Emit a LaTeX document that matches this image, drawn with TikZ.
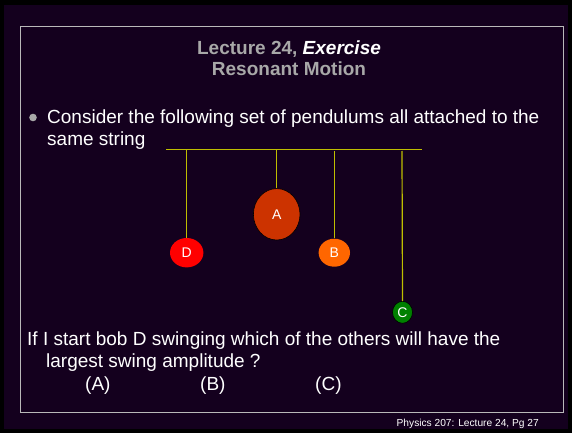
\documentclass[tikz,border=0pt]{standalone}
\usepackage{fontspec}
\setmainfont{Liberation Sans}
\usetikzlibrary{shapes.geometric}
\definecolor{bgc}{HTML}{14001E}
\definecolor{strc}{HTML}{BEBE00}
\definecolor{titc}{HTML}{A8A8A8}
\definecolor{bobA}{HTML}{CC3300}
\definecolor{bobB}{HTML}{FF6600}
\definecolor{bobC}{HTML}{008000}
\definecolor{bobD}{HTML}{FF0000}
\tikzset{
  bob/.style={ellipse, draw=black, line width=0.6pt, inner sep=0pt, text=white, font=\fontsize{14}{14}\selectfont},
  strg/.style={draw=strc, line width=1.2pt},
  body/.style={text=white, anchor=base west, inner sep=0pt, font=\fontsize{19}{19}\selectfont},
}
\begin{document}
\begin{tikzpicture}[x=1pt,y=-1pt]
\useasboundingbox (0,0) rectangle (572,433);
\fill[black] (0,0) rectangle (572,433);
\fill[bgc] (4,5) rectangle (568,429);
\draw[titc!80!white, line width=1pt] (20,27) rectangle (563,412);
% title
\node[text=titc, font=\bfseries\fontsize{19}{21}\selectfont, align=center, inner sep=0pt] (title) at (289,58) {Lecture 24, \textcolor{white}{\itshape Exercise}\\Resonant Motion};
% bullet
\fill[titc] (33,117.5) circle (3.8) coordinate (bul);
\node[body] (l1) at (47,123) {Consider the following set of pendulums all attached to the};
\node[body] (l2) at (47,145) {same string};
% string
\coordinate (sL) at (166,149.5);
\coordinate (sR) at (422,149.5);
\draw[strg] (sL) -- (sR);
\coordinate (tD) at (186.7,149.5);
\coordinate (tA) at (276.7,149.5);
\coordinate (tB) at (334.3,151);
\coordinate (tC) at (402,151);
\node[bob, fill=bobA, minimum width=46.6, minimum height=51.4] (A) at (276.7,214.3) {A};
\node[bob, fill=bobD, draw=none, minimum width=33.4, minimum height=29.4] (D) at (186.7,252.7) {D};
\node[bob, fill=bobB, draw=none, minimum width=31.4, minimum height=28] (B) at (334.3,252.7) {B};
\node[bob, fill=bobC, minimum width=20, minimum height=22] (C) at (402.5,312.3) {C};
\draw[strg] (tD) -- (D.north);
\draw[strg] (tA) -- (A.north);
\draw[strg] (tB) -- (B.north);
\draw[strg] (tC) -- (C.north);
% question
\node[body] (q1) at (27,345) {If I start bob D swinging which of the others will have the};
\node[body] (q2) at (46,367) {largest swing amplitude ?};
\node[body] (oA) at (85,390) {(A)};
\node[body] (oB) at (200,390) {(B)};
\node[body] (oC) at (315,390) {(C)};
% footer
\node[text=white, font=\fontsize{10.2}{11}\selectfont, anchor=base east, inner sep=0pt] (foot) at (539,426) {Physics 207: Lecture 24, Pg 27};
\end{tikzpicture}
\end{document}
